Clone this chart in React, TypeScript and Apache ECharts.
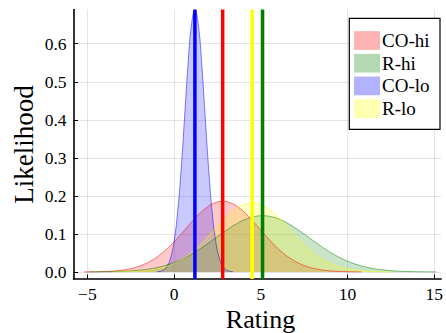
import React, { useEffect, useRef } from "react";
import * as echarts from "echarts";

// Legend / series names
const seriesNames = ["CO-hi", "R-hi", "CO-lo", "R-lo"];

// Density curves
const coHiX = [-5.2, -4.7, -4.2, -3.7, -3.2, -2.7, -2.2, -1.7, -1.2, -0.7, -0.2, 0.3, 0.8, 1.3, 1.8, 2.3, 2.8, 3.3, 3.8, 4.3, 4.8, 5.3, 5.8, 6.3, 6.8, 7.3, 7.8, 8.3, 8.8, 9.3, 9.8, 10.3, 10.8];
const coHiY = [0.0002, 0.0004, 0.0009, 0.0019, 0.0038, 0.007, 0.0124, 0.0208, 0.0329, 0.0493, 0.0701, 0.0944, 0.1204, 0.1455, 0.1666, 0.1806, 0.1856, 0.1806, 0.1666, 0.1455, 0.1204, 0.0944, 0.0701, 0.0493, 0.0329, 0.0208, 0.0124, 0.007, 0.0038, 0.0019, 0.0009, 0.0004, 0.0002];

const rHiX = [-4.9, -4.4, -3.9, -3.4, -2.9, -2.4, -1.9, -1.4, -0.9, -0.4, 0.1, 0.6, 1.1, 1.6, 2.1, 2.6, 3.1, 3.6, 4.1, 4.6, 5.1, 5.6, 6.1, 6.6, 7.1, 7.6, 8.1, 8.6, 9.1, 9.6, 10.1, 10.6, 11.1, 11.6, 12.1, 12.6, 13.1, 13.6, 14.1, 14.6, 15.1];
const rHiY = [0.0002, 0.0003, 0.0006, 0.001, 0.0018, 0.0031, 0.0051, 0.0081, 0.0125, 0.0186, 0.0266, 0.0369, 0.0493, 0.0638, 0.0797, 0.0963, 0.1123, 0.1267, 0.138, 0.1453, 0.1478, 0.1453, 0.138, 0.1267, 0.1123, 0.0963, 0.0797, 0.0638, 0.0493, 0.0369, 0.0266, 0.0186, 0.0125, 0.0081, 0.0051, 0.0031, 0.0018, 0.001, 0.0006, 0.0003, 0.0002];

const coLoX = [-1.0, -0.8, -0.6, -0.4, -0.2, 0, 0.2, 0.4, 0.6, 0.8, 1.0, 1.2, 1.4, 1.6, 1.8, 2.0, 2.2, 2.4, 2.6, 2.8, 3.0, 3.2, 3.4];
const coLoY = [0.0005, 0.0018, 0.0056, 0.0153, 0.0374, 0.0809, 0.1556, 0.2658, 0.4029, 0.5424, 0.6483, 0.688, 0.6483, 0.5424, 0.4029, 0.2658, 0.1556, 0.0809, 0.0374, 0.0153, 0.0056, 0.0018, 0.0005];

const rLoX = [-3.5, -3.0, -2.5, -2.0, -1.5, -1.0, -0.5, 0, 0.5, 1.0, 1.5, 2.0, 2.5, 3.0, 3.5, 4.0, 4.5, 5.0, 5.5, 6.0, 6.5, 7.0, 7.5, 8.0, 8.5, 9.0, 9.5, 10.0, 10.5, 11.0, 11.5, 12.0, 12.5];
const rLoY = [0.0002, 0.0005, 0.0011, 0.0023, 0.0044, 0.008, 0.0137, 0.0224, 0.0347, 0.0511, 0.0715, 0.0951, 0.1199, 0.1437, 0.1635, 0.1767, 0.1813, 0.1767, 0.1635, 0.1437, 0.1199, 0.0951, 0.0715, 0.0511, 0.0347, 0.0224, 0.0137, 0.008, 0.0044, 0.0023, 0.0011, 0.0005, 0.0002];

// Means (vertical lines)
const means = [2.8, 5.1, 1.2, 4.5];

// Axis ticks
const xTicks = [-5, 0, 5, 10, 15];
const yTicks = [0, 0.1, 0.2, 0.3, 0.4, 0.5, 0.6];

const curvesX = [coHiX, rHiX, coLoX, rLoX];
const curvesY = [coHiY, rHiY, coLoY, rLoY];
const rgb = ["255,0,0", "0,128,0", "0,0,255", "255,255,0"];
const solid = ["#ff0000", "#008000", "#0000ff", "#ffff00"];

const FONT = "'Liberation Serif', 'DejaVu Serif', serif";
const X_MIN = -5.8;
const X_MAX = 15.4;
const Y_MIN = -0.0185;
const Y_MAX = 0.69;

export default function App() {
  const ref = useRef<HTMLDivElement>(null);

  useEffect(() => {
    if (!ref.current) return;
    const chart = echarts.init(ref.current, null, { renderer: "svg" });

    const areaSeries = seriesNames.map((name, i) => ({
      name,
      type: "line",
      data: curvesX[i].map((x, j) => [x, curvesY[i][j]]),
      showSymbol: false,
      symbol: "none",
      smooth: true,
      lineStyle: { color: `rgba(${rgb[i]},0.5)`, width: 1 },
      itemStyle: { color: `rgba(${rgb[i]},0.3)` },
      areaStyle: { color: `rgba(${rgb[i]},0.3)` },
      z: 2,
    }));

    const lineSeries = means.map((m, i) => ({
      name: seriesNames[i] + "-mean",
      type: "line",
      data: [
        [m, Y_MIN],
        [m, Y_MAX],
      ],
      showSymbol: false,
      symbol: "none",
      lineStyle: { color: solid[i], width: 3.5 },
      z: 3,
    }));

    chart.setOption({
      animation: false,
      backgroundColor: "#ffffff",
      grid: { left: 73.5, top: 9.5, width: 372.5, height: 269.5, containLabel: false },
      xAxis: {
        type: "value",
        min: X_MIN,
        max: X_MAX,
        axisLine: { show: true, onZero: false, lineStyle: { color: "#000", width: 1.6 } },
        axisTick: { show: true, inside: true, length: 4.5, customValues: xTicks, lineStyle: { color: "#000", width: 1 } },
        axisLabel: {
          customValues: xTicks,
          margin: 6,
          color: "#000",
          fontFamily: FONT,
          fontSize: 17.5,
          formatter: (v: number) => String(v).replace("-", "\u2212"),
        },
        splitLine: { show: true, lineStyle: { color: "rgba(0,0,0,0.1)", width: 1 } },
      },
      yAxis: {
        type: "value",
        min: Y_MIN,
        max: Y_MAX,
        axisLine: { show: true, onZero: false, lineStyle: { color: "#000", width: 1.6 } },
        axisTick: { show: true, inside: true, length: 4.5, customValues: yTicks, lineStyle: { color: "#000", width: 1 } },
        axisLabel: {
          customValues: yTicks,
          margin: 7,
          color: "#000",
          fontFamily: FONT,
          fontSize: 17.5,
          formatter: (v: number) => v.toFixed(1),
        },
        splitLine: { show: true, lineStyle: { color: "rgba(0,0,0,0.1)", width: 1 } },
      },
      legend: {
        show: true,
        orient: "vertical",
        left: 354,
        top: 31,
        padding: 0,
        itemWidth: 26,
        itemHeight: 18.7,
        itemGap: 3.7,
        z: 12,
        selectedMode: false,
        icon: "rect",
        textStyle: { fontFamily: FONT, fontSize: 19, color: "#000", padding: [0, 0, 0, -3] },
        data: seriesNames.map((n, i) => ({
          name: n,
          icon: "rect",
          itemStyle: { color: `rgba(${rgb[i]},0.3)`, borderWidth: 0 },
        })),
      },
      graphic: [
        {
          type: "rect",
          z: 11,
          shape: { x: 349.3, y: 18.3, width: 90.7, height: 111 },
          style: { fill: "#ffffff", stroke: "#000000", lineWidth: 1.2 },
        },
        {
          type: "text",
          x: 260.5,
          y: 319,
          style: { text: "Rating", font: `26px ${FONT}`, fill: "#000", align: "center", verticalAlign: "middle" },
        },
        {
          type: "text",
          x: 24.2,
          y: 144.5,
          rotation: Math.PI / 2,
          style: { text: "Likelihood", font: `27px ${FONT}`, fill: "#000", align: "center", verticalAlign: "middle" },
        },
      ],
      series: [...areaSeries, ...lineSeries],
    });

    return () => chart.dispose();
  }, []);

  return (
    <div
      ref={ref}
      style={{ position: "fixed", left: 0, top: 0, width: 446, height: 333, background: "#fff" }}
    />
  );
}
